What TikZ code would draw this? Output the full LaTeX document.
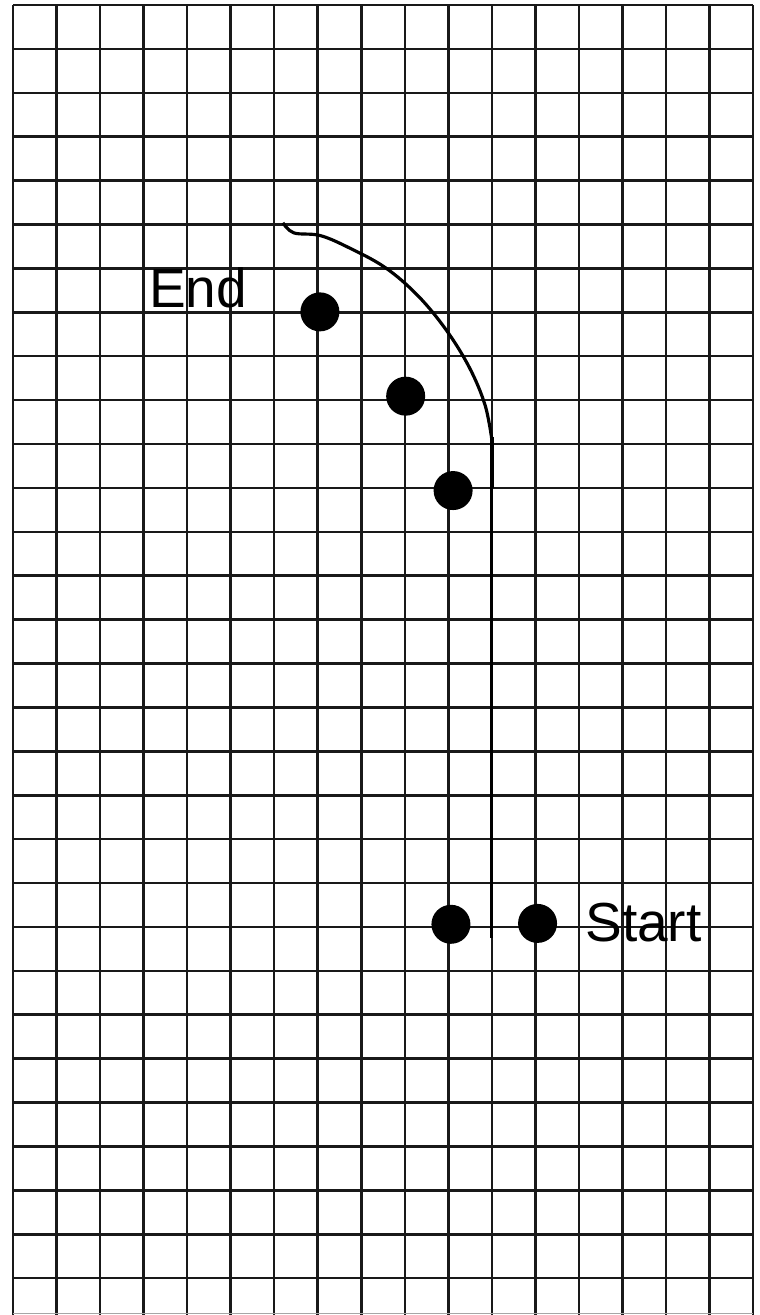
\documentclass[tikz,border=0pt]{standalone}
\usepackage{fontspec}
\setmainfont{Liberation Sans}
\usepackage{tikz}

\tikzset{
  gridline/.style={line width=1.45pt, black!90},
  track/.style={line width=1.8pt, black},
  spot/.style={circle, fill=black, inner sep=0pt, minimum size=0.78cm},
  tag/.style={anchor=base west, inner sep=0pt, font=\fontsize{31.3}{36}\selectfont}
}

\begin{document}
\begin{tikzpicture}[x=0.8706cm, y=-0.878cm]
  % Page frame
  \useasboundingbox (-0.299,-0.114) rectangle (17.16,29.84);
  \fill[white] (-0.299,-0.114) rectangle (17.16,29.84);

  % Grid (17 columns, 29 rows, cut off at the bottom)
  \foreach \c in {0,...,17} {
    \draw[gridline] (\c,0) -- (\c,29.84);
  }
  \foreach \r in {0,...,29} {
    \draw[gridline] (0,\r) -- (17,\r);
  }
  \draw[line width=0.6pt, black!35] (0,29.8) -- (17,29.8);

  % Path: straight up from the start, then bending to the left
  \draw[track] plot[smooth, tension=0.6] coordinates {
    (6.20,4.96) (6.45,5.19) (7.05,5.25) (7.70,5.52) (8.55,5.98)
    (9.30,6.62) (9.95,7.40) (10.48,8.25) (10.84,9.10) (11.0,9.9)
  };
  \draw[line width=2.2pt] (11.0,9.85) -- (11.0,11.0);
  \draw[track] (11.0,11.0) -- (11.0,21.25);

  % Marked positions
  \node[spot] (endpt)   at (7.05,6.99) {};
  \node[spot] (midpt)   at (9.02,8.91) {};
  \node[spot] (lowpt)   at (10.11,11.06) {};
  \node[spot] (startl)  at (10.06,20.94) {};
  \node[spot] (startr)  at (12.05,20.92) {};

  % Labels
  \node[tag] (endlbl)   at (3.12,6.90)  {End};
  \node[tag] (startlbl) at (13.14,21.34) {Start};
\end{tikzpicture}
\end{document}
